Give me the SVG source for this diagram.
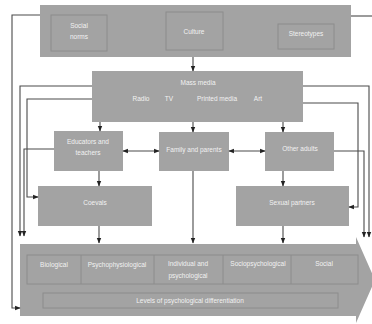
<svg xmlns="http://www.w3.org/2000/svg" width="372" height="324" viewBox="0 0 372 324">
<style>
.box{fill:#a3a3a3;}
.inner{fill:none;stroke:#8c8c8c;stroke-width:1;}
.t{font-family:"Liberation Sans",Arial,sans-serif;font-size:6.5px;fill:#f2f2f2;text-anchor:middle;}
.c{fill:none;stroke:#4a4a4a;stroke-width:1.1;}
</style>
<defs>
<marker id="ah" viewBox="0 0 10 10" refX="9" refY="5" markerWidth="5" markerHeight="5" orient="auto-start-reverse">
<path d="M0,1 L10,5 L0,9 z" fill="#222"/>
</marker>
</defs>
<rect width="372" height="324" fill="#fff"/>

<g id="top-factors">
<rect class="box" x="40" y="5" width="311" height="52"/>
<g id="social-norms"><rect class="inner" x="51" y="15" width="56" height="36"/><text class="t" x="79" y="28">Social</text><text class="t" x="79" y="39">norms</text></g>
<g id="culture"><rect class="inner" x="166" y="12" width="57" height="38"/><text class="t" x="194" y="34">Culture</text></g>
<g id="stereotypes"><rect class="inner" x="278" y="24" width="56" height="25"/><text class="t" x="306" y="36">Stereotypes</text></g>
</g>

<g id="mass-media">
<rect class="box" x="92" y="71" width="211" height="51"/>
<text class="t" x="198" y="85">Mass media</text>
<text class="t" x="141" y="101">Radio</text>
<text class="t" x="169" y="101">TV</text>
<text class="t" x="217" y="101">Printed media</text>
<text class="t" x="258" y="101">Art</text>
</g>

<g id="educators">
<rect class="box" x="54" y="131" width="69" height="40"/>
<text class="t" x="88" y="144">Educators and</text>
<text class="t" x="88" y="155">teachers</text>
</g>

<g id="family">
<rect class="box" x="159" y="132" width="70" height="39"/>
<text class="t" x="194" y="152">Family and parents</text>
</g>

<g id="other-adults">
<rect class="box" x="265" y="132" width="69" height="39"/>
<text class="t" x="300" y="151">Other adults</text>
</g>

<g id="coevals">
<rect class="box" x="38" y="186" width="114" height="40"/>
<text class="t" x="95" y="205">Coevals</text>
</g>

<g id="sexual-partners">
<rect class="box" x="236" y="186" width="113" height="40"/>
<text class="t" x="292" y="205">Sexual partners</text>
</g>

<g id="levels">
<path class="box" d="M20,244 L356,244 L356,237 L375,280 L356,323 L356,316 L20,316 z"/>
<rect class="inner" x="27" y="255" width="331" height="29"/>
<line class="inner" x1="81" y1="255" x2="81" y2="284"/>
<line class="inner" x1="154" y1="255" x2="154" y2="284"/>
<line class="inner" x1="223" y1="255" x2="223" y2="284"/>
<line class="inner" x1="291" y1="255" x2="291" y2="284"/>
<text class="t" x="54" y="267">Biological</text>
<text class="t" x="117" y="267">Psychophysiological</text>
<text class="t" x="188" y="266">Individual and</text>
<text class="t" x="188" y="278">psychological</text>
<text class="t" x="258" y="266">Sociopsychological</text>
<text class="t" x="324" y="266">Social</text>
<rect class="inner" x="43" y="293" width="295" height="15"/>
<text class="t" x="190" y="303">Levels of psychological differentiation</text>
</g>

<g id="connectors">
<polyline class="c" points="40,15 12,15 12,308 20,308" marker-end="url(#ah)"/>
<line class="c" x1="351" y1="16" x2="372" y2="16"/>
<line class="c" x1="193" y1="57" x2="193" y2="71" marker-end="url(#ah)"/>
<polyline class="c" points="92,86 20,86 20,236" marker-end="url(#ah)"/>
<polyline class="c" points="92,99 27,99 27,197 38,197" marker-end="url(#ah)"/>
<polyline class="c" points="54,149 24,149 24,236" marker-end="url(#ah)"/>
<line class="c" x1="100" y1="122" x2="100" y2="131" marker-end="url(#ah)"/>
<line class="c" x1="193" y1="122" x2="193" y2="132" marker-end="url(#ah)"/>
<line class="c" x1="283" y1="122" x2="283" y2="132" marker-end="url(#ah)"/>
<line class="c" x1="123" y1="151" x2="159" y2="151" marker-start="url(#ah)" marker-end="url(#ah)"/>
<line class="c" x1="229" y1="151" x2="265" y2="151" marker-start="url(#ah)" marker-end="url(#ah)"/>
<polyline class="c" points="303,86 369,86 369,237" marker-end="url(#ah)"/>
<polyline class="c" points="303,103 358,103 358,207 349,207" marker-end="url(#ah)"/>
<polyline class="c" points="334,151 364,151 364,237" marker-end="url(#ah)"/>
<line class="c" x1="99" y1="171" x2="99" y2="186" marker-end="url(#ah)"/>
<line class="c" x1="283" y1="171" x2="283" y2="186" marker-end="url(#ah)"/>
<line class="c" x1="99" y1="226" x2="99" y2="243" marker-end="url(#ah)"/>
<line class="c" x1="193" y1="171" x2="193" y2="243" marker-end="url(#ah)"/>
<line class="c" x1="283" y1="226" x2="283" y2="243" marker-end="url(#ah)"/>
</g>
</svg>
